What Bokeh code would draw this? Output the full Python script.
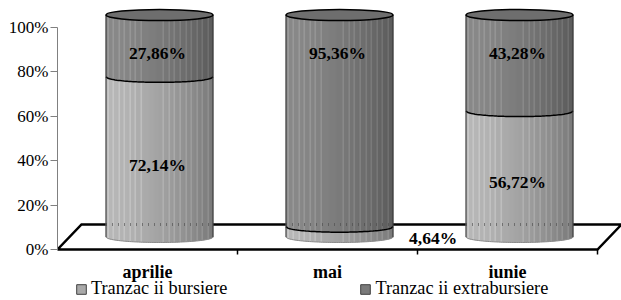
import numpy as np
from bokeh.plotting import figure
from bokeh.models import (Range1d, FixedTicker, CustomJSTickFormatter, ColumnDataSource,
                          Legend, LegendItem)
from bokeh.core.properties import value
from bokeh.embed import file_html
from bokeh.resources import INLINE

# ---------------- data ----------------
months = ["aprilie", "mai", "iunie"]
bursiere = [72.14, 4.64, 56.72]
extrabursiere = [27.86, 95.36, 43.28]
series_names = ["Tranzac ii bursiere", "Tranzac ii extrabursiere"]
y_ticks = [0, 20, 40, 60, 80, 100]

# ---------------- layout / style ----------------
FONT = "Liberation Serif"
W, H = 621, 300
LEFT = 57
PX_X = 180.0          # pixels per category
PX_Y = 2.22           # pixels per percent
ZERO = 249            # 0% line, px from figure top
x_end = (W - LEFT) / PX_X
y_top = ZERO / PX_Y
y_bot = -(H - ZERO) / PX_Y

DX = 24 / PX_X        # floor depth (x)
DY = 25 / PX_Y        # floor depth (y)
R = 53.5 / PX_X       # cylinder radius (x units)
HH = 5.5 / PX_Y       # ellipse half height (y units)
BASE = DY / 2

p = figure(width=W, height=H, output_backend="svg", toolbar_location=None,
           x_range=Range1d(0, x_end), y_range=Range1d(y_bot, y_top),
           min_border_left=LEFT, min_border_right=0, min_border_top=0, min_border_bottom=0,
           x_axis_location=None, y_axis_location="left")
p.outline_line_color = None
p.grid.visible = False
p.background_fill_color = "white"
p.border_fill_color = "white"

ax = p.yaxis[0]
ax.ticker = FixedTicker(ticks=y_ticks)
ax.formatter = CustomJSTickFormatter(code="return tick.toFixed(0) + '%';")
ax.bounds = (0, 100)
ax.axis_line_color = "#808080"
ax.major_tick_line_color = "#808080"
ax.major_tick_out = 7
ax.major_tick_in = 0
ax.minor_tick_line_color = None
ax.major_label_standoff = 2
ax.major_label_text_font = FONT
ax.major_label_text_font_size = "17px"
ax.major_label_text_color = "black"

n = len(months)

# ---------------- floor ----------------
p.patch([0, n, n + DX, DX], [0, 0, DY, DY], fill_color=None,
        line_color="black", line_width=2.5, line_join="miter")
bx = list(range(1, n + 1))
p.segment(x0=bx, y0=[0] * n, x1=bx, y1=[-5 / PX_Y] * n, line_color="black", line_width=1.5)

# ---------------- cylinders ----------------
NS = 107
edges = np.linspace(-1, 1, NS + 1)
uc = (edges[:-1] + edges[1:]) / 2
sag = HH * np.sqrt(1 - uc ** 2)
t = (uc + 1) / 2
shade = 1.08 - 0.36 * t ** 1.6
stripes = [0.02 + k * 0.052 for k in range(19)]
stripes = [s for s in stripes if not (0.35 < s < 0.52)]
hl = np.zeros(NS)
for s in stripes:
    hl[np.argmin(np.abs(t - s))] = 1.0
ov = 0.35 / PX_X

def strip_colors(base):
    vals = np.clip(base * shade + 26 * hl, 0, 255).astype(int)
    return ["#%02x%02x%02x" % (v, v, v) for v in vals]

light_cols = strip_colors(170)
dark_cols = strip_colors(128)

L, Rr, B, T, C = [], [], [], [], []
centers = [i + 0.5 + DX / 2 for i in range(n)]
for i in range(n):
    cx = centers[i]
    split = BASE + bursiere[i]
    top = split + extrabursiere[i]
    left = cx + R * edges[:-1] - ov
    right = cx + R * edges[1:] + ov
    L += list(left); Rr += list(right)
    B += list(BASE - sag); T += list(split - sag); C += light_cols
    L += list(left); Rr += list(right)
    B += list(split - sag); T += list(top - sag); C += dark_cols

src = ColumnDataSource(dict(left=L, right=Rr, bottom=B, top=T, color=C))
p.quad(left="left", right="right", bottom="bottom", top="top", fill_color="color",
       line_color=None, source=src)

# floor back line faintly showing through
p.segment(x0=[c - R for c in centers], x1=[c + R for c in centers], y0=[DY] * n, y1=[DY] * n,
          line_color="#4a4a4a", line_width=3, line_dash="1 5", line_alpha=0.6)

uf = np.linspace(-1, 1, 60)
arc_xs = [list(c + R * uf) for c in centers]
bottom_ys = [list(BASE - HH * np.sqrt(1 - uf ** 2)) for _ in centers]
split_ys = [list(BASE + bursiere[i] - HH * np.sqrt(1 - uf ** 2)) for i in range(n)]
p.multi_line(arc_xs, bottom_ys, line_color="#8a8a8a", line_width=1)
p.multi_line(arc_xs, split_ys, line_color="black", line_width=1.5)

tops = [BASE + bursiere[i] + extrabursiere[i] for i in range(n)]
for side in (-1, 1):
    xs = [c + side * R for c in centers]
    p.segment(x0=xs, y0=[BASE] * n, x1=xs, y1=tops, line_color="#303030", line_width=1)
p.ellipse(x=centers, y=tops, width=[2 * R] * n, height=[2 * HH] * n,
          fill_color="#6e6e6e", line_color="black", line_width=1.5)

# ---------------- data labels ----------------
lx, ly, lt, la = [], [], [], []
for i in range(n):
    cx = centers[i]
    top = tops[i]
    vals = [(bursiere[i], BASE, BASE + bursiere[i], True), (extrabursiere[i], BASE + bursiere[i], top, False)]
    for v, y0, y1, is_bottom in vals:
        txt = ("%.2f%%" % v).replace(".", ",")
        if v < 10:
            lx.append(cx + R + 16 / PX_X); ly.append(y0 - 0.5); la.append("left")
        elif is_bottom:
            lx.append(cx - 2 / PX_X); ly.append((y0 + y1) / 2 - 3.5); la.append("center")
        else:
            lx.append(cx - 2 / PX_X); ly.append(top - 17); la.append("center")
        lt.append(txt)
p.text(x=lx, y=ly, text=lt, text_align=la, text_baseline="middle",
       text_font=value(FONT), text_font_style="bold", text_font_size="17.5px", text_color="black")

# ---------------- category labels ----------------
p.text(x=[i + 0.5 for i in range(n)], y=[-22 / PX_Y] * n, text=months,
       text_align="center", text_baseline="middle", text_font=value(FONT),
       text_font_style="bold", text_font_size="18px", text_color="black")

# ---------------- legend ----------------
nan = float("nan")
r1 = p.quad(left=[nan], right=[nan], bottom=[nan], top=[nan], fill_color="#a9a9a9", line_color="#404040")
r2 = p.quad(left=[nan], right=[nan], bottom=[nan], top=[nan], fill_color="#7a7a7a", line_color="#404040")
legend = Legend(items=[LegendItem(label=series_names[0], renderers=[r1]),
                       LegendItem(label=series_names[1], renderers=[r2])],
                orientation="horizontal", location=(18, 1), glyph_width=12, glyph_height=12,
                label_standoff=4, spacing=132, padding=0, margin=0,
                border_line_color=None, background_fill_alpha=0,
                label_text_font=FONT, label_text_font_size="18.3px", label_height=17,
                label_text_color="black")
p.add_layout(legend)

open("out.html", "w").write(file_html(p, INLINE))
